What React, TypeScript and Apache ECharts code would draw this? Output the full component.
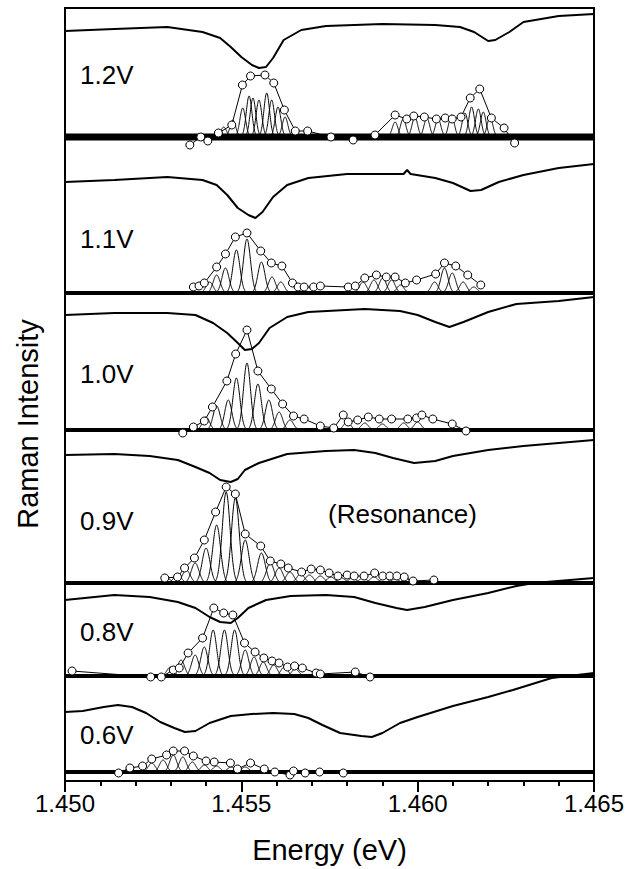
import React, { useEffect, useRef } from "react";
import * as echarts from "echarts";

// Panel labels (bias voltage), top to bottom
const voltageLabels = ["1.2V", "1.1V", "1.0V", "0.9V", "0.8V", "0.6V"];
// Vertical offset of each panel's zero line (intensity units, arbitrary)
const panelOffsets = [644, 488, 351, 198, 105, 9];
// Gaussian width (sigma, eV) of the fitted lines for each panel
const peakSigma = [0.00008, 0.0001, 0.0001, 0.00011, 0.0001, 0.0001];

// Reflectance spectra [energy eV, intensity above panel zero]
const refl12 = [[1.4500,106],[1.4514,108],[1.4529,110],[1.4539,105],[1.4544,99],[1.4547,90],[1.4550,80],[1.4553,72],[1.4555,69],[1.4557,70],[1.4559,79],[1.4562,97],[1.4567,107],[1.4574,111],[1.4590,113],[1.4605,112],[1.4612,110],[1.4616,105],[1.4620,96],[1.4622,97],[1.4626,105],[1.4630,115],[1.4640,121],[1.4650,123]];
const refl11 = [[1.4500,111],[1.4514,113],[1.4529,116],[1.4539,113],[1.4543,108],[1.4546,98],[1.4549,85],[1.4552,78],[1.4554,75],[1.4556,81],[1.4559,96],[1.4563,108],[1.4569,115],[1.4580,119],[1.4596,119],[1.4597,123],[1.4598,119],[1.4605,115],[1.4610,110],[1.4615,102],[1.4618,103],[1.4623,111],[1.4630,118],[1.4640,125],[1.4650,129]];
const refl10 = [[1.4500,115],[1.4514,117],[1.4529,117],[1.4537,115],[1.4542,107],[1.4546,97],[1.4549,87],[1.4551,80],[1.4553,81],[1.4555,87],[1.4558,102],[1.4563,113],[1.4569,118],[1.4585,121],[1.4595,119],[1.4600,115],[1.4605,108],[1.4609,103],[1.4613,108],[1.4620,118],[1.4628,126],[1.4640,129],[1.4650,133]];
const refl09 = [[1.4500,128],[1.4514,129],[1.4524,127],[1.4532,123],[1.4537,116],[1.4541,110],[1.4544,103],[1.4547,101],[1.4549,104],[1.4551,113],[1.4555,120],[1.4563,129],[1.4574,132],[1.4582,133],[1.4588,130],[1.4593,125],[1.4599,120],[1.4605,122],[1.4610,127],[1.4620,133],[1.4630,137],[1.4640,140],[1.4650,143]];
const refl08 = [[1.4500,76],[1.4514,81],[1.4524,79],[1.4532,74],[1.4537,68],[1.4541,59],[1.4544,54],[1.4547,53],[1.4549,58],[1.4552,68],[1.4557,76],[1.4564,80],[1.4574,81],[1.4582,79],[1.4588,73],[1.4594,68],[1.4597,66],[1.4602,69],[1.4610,76],[1.4620,83],[1.4628,90],[1.4633,93],[1.4650,98]];
const refl06 = [[1.4500,60],[1.4505,61],[1.4511,65],[1.4515,67],[1.4519,65],[1.4523,59],[1.4527,50],[1.4531,44],[1.4534,40],[1.4537,41],[1.4541,49],[1.4547,56],[1.4553,58],[1.4559,59],[1.4565,58],[1.4569,54],[1.4573,47],[1.4578,39],[1.4584,36],[1.4587,35],[1.4590,39],[1.4595,49],[1.4600,55],[1.4610,66],[1.4620,75],[1.4627,82],[1.4638,94],[1.4650,99]];

// Raman peak envelope (open circles) [energy eV, intensity above panel zero]
const env12 = [[1.45354,-8],[1.45385,0],[1.45405,-4],[1.45435,4],[1.45473,12],[1.45503,52],[1.45526,61],[1.45567,62],[1.45592,54],[1.45622,27],[1.45653,6],[1.45688,6],[1.45754,0],[1.45817,-3],[1.45879,2],[1.45936,22],[1.45969,18],[1.45989,21],[1.46019,20],[1.46053,18],[1.46078,19],[1.46098,18],[1.46123,20],[1.46149,39],[1.46176,48],[1.46209,19],[1.46245,9],[1.46275,-6]];
const env11 = [[1.45364,6],[1.45380,7],[1.45395,10],[1.45430,26],[1.45455,39],[1.45483,56],[1.45516,60],[1.45555,42],[1.45585,30],[1.45615,27],[1.45645,10],[1.45661,6],[1.45678,6],[1.45705,6],[1.45724,7],[1.45803,6],[1.45823,7],[1.45850,15],[1.45883,18],[1.45911,16],[1.45936,16],[1.45965,10],[1.45997,13],[1.46051,19],[1.46076,30],[1.46108,27],[1.46142,18],[1.46179,8]];
const env10 = [[1.45334,-3],[1.45364,3],[1.45395,9],[1.45418,23],[1.45459,49],[1.45484,76],[1.45516,100],[1.45547,59],[1.45585,41],[1.45617,26],[1.45648,14],[1.45678,11],[1.45724,4],[1.45762,2],[1.45789,15],[1.45803,8],[1.45830,10],[1.45860,13],[1.45891,11],[1.45926,11],[1.45972,11],[1.45997,12],[1.46012,15],[1.46043,11],[1.46098,6],[1.46137,-1]];
const env09 = [[1.45283,5],[1.45319,6],[1.45339,15],[1.45367,25],[1.45395,43],[1.45427,71],[1.45457,96],[1.45483,89],[1.45511,49],[1.45555,37],[1.45582,22],[1.45612,19],[1.45633,15],[1.45671,11],[1.45698,14],[1.45724,13],[1.45749,10],[1.45774,7],[1.45800,8],[1.45820,7],[1.45848,7],[1.45878,10],[1.45901,7],[1.45921,7],[1.45941,7],[1.45962,6],[1.45987,2],[1.46046,3]];
const env08 = [[1.45020,5],[1.45243,-1],[1.45273,-1],[1.45307,6],[1.45324,8],[1.45349,23],[1.45390,38],[1.45422,68],[1.45450,63],[1.45476,61],[1.45509,33],[1.45539,24],[1.45564,18],[1.45587,15],[1.45607,13],[1.45631,9],[1.45651,10],[1.45673,8],[1.45712,3],[1.45724,2],[1.45823,4],[1.45865,-1]];
const env06 = [[1.45152,-1],[1.45184,4],[1.45220,6],[1.45246,13],[1.45288,17],[1.45307,21],[1.45339,21],[1.45364,16],[1.45400,11],[1.45423,10],[1.45469,9],[1.45489,3],[1.45526,9],[1.45565,3],[1.45595,0],[1.45638,-3],[1.45648,1],[1.45681,-1],[1.45722,0],[1.45789,-1]];

// Individual fitted Raman lines [centre eV, height]
const pk12 = [[1.45450,10],[1.45476,17],[1.45504,29],[1.45522,41],[1.45533,39],[1.45550,37],[1.45572,44],[1.45586,37],[1.45604,30],[1.45624,20],[1.45936,15],[1.45959,18],[1.45992,20],[1.46026,19],[1.46058,18],[1.46096,22],[1.46134,24],[1.46153,30],[1.46172,28],[1.46186,25],[1.46205,20]];
const pk11 = [[1.45410,11],[1.45430,18],[1.45455,25],[1.45486,43],[1.45516,54],[1.45557,31],[1.45587,16],[1.45612,11],[1.45845,11],[1.45876,13],[1.45901,15],[1.45926,13],[1.45951,8],[1.46048,11],[1.46076,25],[1.46098,20],[1.46129,11],[1.46159,6]];
const pk10 = [[1.45400,13],[1.45430,24],[1.45463,30],[1.45486,52],[1.45516,67],[1.45547,46],[1.45578,30],[1.45607,18],[1.45638,10],[1.45800,8],[1.45850,7],[1.45900,6],[1.45960,7],[1.46000,8]];
const pk09 = [[1.45288,5],[1.45319,8],[1.45344,13],[1.45369,20],[1.45400,35],[1.45430,58],[1.45457,91],[1.45483,85],[1.45511,43],[1.45557,30],[1.45582,20],[1.45607,15],[1.45638,11],[1.45668,9],[1.45693,8],[1.45724,7],[1.45754,6],[1.45784,5],[1.45815,5],[1.45845,5],[1.45876,6],[1.45906,5],[1.45936,4],[1.45967,4]];
const pk08 = [[1.45299,9],[1.45329,16],[1.45369,21],[1.45395,29],[1.45420,46],[1.45452,46],[1.45481,46],[1.45511,26],[1.45536,19],[1.45562,14],[1.45592,11],[1.45622,9],[1.45653,7]];
const pk06 = [[1.45246,9],[1.45278,12],[1.45307,17],[1.45334,15],[1.45361,10],[1.45395,7],[1.45430,6],[1.45471,5],[1.45511,5]];

const reflData = [refl12, refl11, refl10, refl09, refl08, refl06];
const envData = [env12, env11, env10, env09, env08, env06];
const peakData = [pk12, pk11, pk10, pk09, pk08, pk06];

const FONT = "'Liberation Sans', Arial, Helvetica, sans-serif";

export default function App() {
  const ref = useRef<HTMLDivElement>(null);
  useEffect(() => {
    const chart = echarts.init(ref.current as HTMLDivElement, null, { renderer: "svg" });
    const series: any[] = [];
    for (let p = 0; p < 6; p++) {
      const off = panelOffsets[p];
      // noisy baseline band (drawn as thick line at panel zero)
      series.push({
        type: "line",
        data: [[1.45, off], [1.465, off]],
        symbol: "none",
        lineStyle: { color: "#000", width: p === 0 ? 7 : 4 },
        silent: true,
        z: 2,
      });
      // individual Gaussian lines
      series.push({
        type: "custom",
        silent: true,
        clip: true,
        z: 3,
        encode: { x: 0, y: 1 },
        data: peakData[p].map(([e, h]) => [e, off + h, h, off, peakSigma[p]]),
        renderItem: (params: any, api: any) => {
          const c = api.value(0);
          const h = api.value(2);
          const o = api.value(3);
          const s = api.value(4);
          const pts: number[][] = [];
          const n = 40;
          for (let k = -n; k <= n; k++) {
            const x = c + (k / n) * 3 * s;
            const y = o + h * Math.exp(-0.5 * ((x - c) / s) * ((x - c) / s));
            pts.push(api.coord([x, y]));
          }
          return {
            type: "polyline",
            shape: { points: pts },
            style: { stroke: "#000", lineWidth: 1, fill: "none" },
          };
        },
      });
      // envelope with open circles
      series.push({
        type: "line",
        data: envData[p].map(([e, v]) => [e, off + v]),
        symbol: "circle",
        symbolSize: 8,
        showAllSymbol: true,
        lineStyle: { color: "#000", width: 1 },
        itemStyle: { color: "#fff", borderColor: "#000", borderWidth: 1 },
        silent: true,
        z: 5,
      });
      // reflectance spectrum
      series.push({
        type: "line",
        data: reflData[p].map(([e, v]) => [e, off + v]),
        symbol: "none",
        lineStyle: { color: "#000", width: 2 },
        silent: true,
        z: 4,
      });
    }

    const labelY = [75, 239, 374, 521, 632, 735];
    const graphics: any[] = voltageLabels.map((t, i) => ({
      type: "text",
      x: 80,
      y: labelY[i],
      style: { text: t, font: `26px ${FONT}`, fill: "#000", textAlign: "left", textVerticalAlign: "middle" },
      z: 10,
    }));
    graphics.push({
      type: "text",
      x: 328,
      y: 514,
      style: { text: "(Resonance)", font: `26px ${FONT}`, fill: "#000", textAlign: "left", textVerticalAlign: "middle" },
      z: 10,
    });
    graphics.push({
      type: "text",
      x: 28,
      y: 424,
      rotation: Math.PI / 2,
      style: { text: "Raman Intensity", font: `29px ${FONT}`, fill: "#000", textAlign: "center", textVerticalAlign: "middle" },
      z: 10,
    });

    chart.setOption({
      animation: false,
      backgroundColor: "#fff",
      textStyle: { fontFamily: FONT },
      grid: { left: 65, right: 44, top: 8, bottom: 88, show: true, borderColor: "#000", borderWidth: 2, containLabel: false },
      xAxis: {
        type: "value",
        min: 1.45,
        max: 1.465,
        interval: 0.005,
        axisLine: { show: true, lineStyle: { color: "#000", width: 2 } },
        axisTick: { show: true, inside: false, length: 11, lineStyle: { color: "#000", width: 2 } },
        minorTick: { show: true, splitNumber: 5, length: 5, lineStyle: { color: "#000", width: 2 } },
        splitLine: { show: false },
        minorSplitLine: { show: false },
        axisLabel: {
          formatter: (v: number) => v.toFixed(3),
          fontSize: 24,
          color: "#000",
          fontFamily: FONT,
          margin: 10,
        },
        name: "Energy (eV)",
        nameLocation: "middle",
        nameGap: 54,
        nameTextStyle: { fontSize: 29, color: "#000", fontFamily: FONT },
      },
      yAxis: {
        type: "value",
        min: 0,
        max: 773,
        axisLine: { show: true, lineStyle: { color: "#000", width: 2 } },
        axisTick: { show: false },
        axisLabel: { show: false },
        splitLine: { show: false },
      },
      graphic: graphics,
      series,
    });
    return () => chart.dispose();
  }, []);
  return (
    <div
      ref={ref}
      style={{ position: "fixed", left: 0, top: 0, width: 638, height: 869, background: "#fff" }}
    />
  );
}
